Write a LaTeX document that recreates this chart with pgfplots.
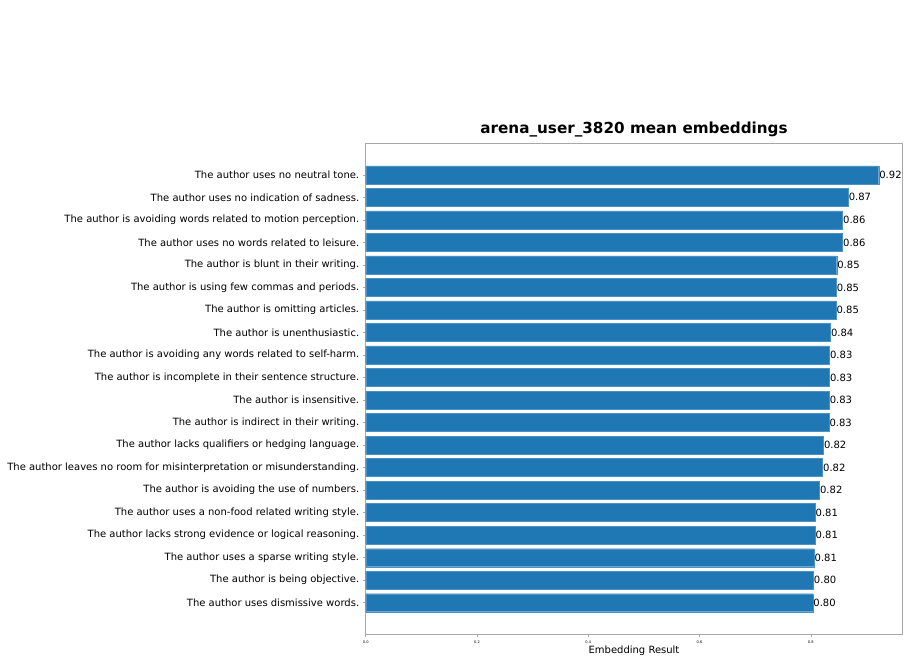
\documentclass[border=0pt]{standalone}
\usepackage{pgfplots}
\pgfplotsset{compat=1.18}
\usepackage{pgfplotstable}
\usepackage{fontspec}
\setmainfont{DejaVu Sans}

\definecolor{barblue}{HTML}{1F77B4}
\definecolor{spine}{HTML}{A8A8A8}

% mean embedding score per trait, listed top to bottom
\pgfplotstableread[col sep=comma]{
idx,score
0,0.922
1,0.867
2,0.857
3,0.857
4,0.8465
5,0.8455
6,0.8452
7,0.8352
8,0.8335
9,0.8333
10,0.8330
11,0.8325
12,0.8225
13,0.8210
14,0.8155
15,0.8075
16,0.8075
17,0.8058
18,0.8045
19,0.8035
}\scores

\begin{document}
\begin{tikzpicture}[x=1pt,y=1pt]
\useasboundingbox (0,0) rectangle (911,662);
\begin{axis}[
  at={(365.7pt,28pt)}, anchor=south west,
  scale only axis,
  width=536.6pt, height=490.5pt,
  xbar, bar width=0.8,
  y dir=reverse,
  xmin=0, xmax=0.9644,
  ymin=-1.39, ymax=20.39,
  /pgf/number format/assume math mode=true,
  axis line style={spine, line width=0.8pt},
  tick style={spine, line width=0.6pt},
  tick align=outside,
  xtick pos=bottom, ytick pos=left,
  major tick length=3pt,
  xtick={0,0.2,0.4,0.6,0.8},
  xticklabel style={font=\fontsize{3.6}{4}\selectfont, /pgf/number format/fixed, /pgf/number format/precision=1, /pgf/number format/fixed zerofill},
  ytick={0,...,19},
  yticklabels={
    The author uses no neutral tone.,
    The author uses no indication of sadness.,
    The author is avoiding words related to motion perception.,
    The author uses no words related to leisure.,
    The author is blunt in their writing.,
    The author is using few commas and periods.,
    The author is omitting articles.,
    The author is unenthusiastic.,
    The author is avoiding any words related to self-harm.,
    The author is incomplete in their sentence structure.,
    The author is insensitive.,
    The author is indirect in their writing.,
    The author lacks qualifiers or hedging language.,
    The author leaves no room for misinterpretation or misunderstanding.,
    The author is avoiding the use of numbers.,
    The author uses a non-food related writing style.,
    The author lacks strong evidence or logical reasoning.,
    The author uses a sparse writing style.,
    The author is being objective.,
    The author uses dismissive words.},
  yticklabel style={font=\fontsize{10}{12}\selectfont},
  xlabel={Embedding Result},
  xlabel style={font=\fontsize{10}{12}\selectfont, yshift=4pt},
  title={\bfseries arena\_user\_3820 mean embeddings},
  title style={font=\fontsize{15.2}{18}\selectfont, yshift=-3pt},
  nodes near coords,
  point meta=x,
  every node near coord/.append style={font=\fontsize{10}{12}\selectfont, anchor=west, inner sep=0.5pt,
    /pgf/number format/fixed, /pgf/number format/precision=2, /pgf/number format/fixed zerofill},
]
\addplot[fill=barblue, draw=barblue!80!white, line width=0.3pt] table[x=score, y=idx] {\scores};
\end{axis}
\end{tikzpicture}
\end{document}
